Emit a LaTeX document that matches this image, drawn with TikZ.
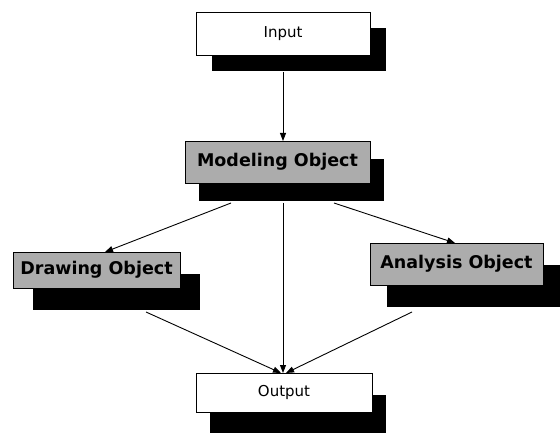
\documentclass[tikz,border=0pt]{standalone}
\usepackage{fontspec}
\setmainfont{DejaVu Sans}
\usetikzlibrary{arrows.meta,shadows}
\definecolor{boxgray}{RGB}{172,172,172}
\tikzset{
  plainbox/.style={draw=black, line width=0.8pt, fill=white, inner sep=0pt,
    font=\fontsize{15}{18}\selectfont},
  graybox/.style={draw=black, line width=0.8pt, fill=boxgray, inner sep=0pt,
    font=\fontsize{17.5}{20}\selectfont\bfseries},
  shad/.style 2 args={drop shadow={shadow xshift=#1pt, shadow yshift=-#2pt, fill=black, opacity=1}},
  conn/.style={line width=0.9pt, -{Triangle[length=8pt,width=6pt]}}
}
\begin{document}
\begin{tikzpicture}[x=1pt,y=-1pt]
\useasboundingbox (0,0) rectangle (560,433);
\node[plainbox, shad={16}{16}, minimum width=174pt, minimum height=43pt] (in) at (283,33.5) {Input};
\node[graybox, shad={14}{18}, minimum width=185pt, minimum height=42pt] (model) at (277.5,162) {Modeling Object};
\node[graybox, shad={20}{22}, minimum width=167pt, minimum height=36pt] (draw) at (96.5,270) {Drawing Object};
\node[graybox, shad={17}{22}, minimum width=173pt, minimum height=42pt] (anal) at (456.5,264) {Analysis Object};
\node[plainbox, shad={14}{22}, minimum width=176pt, minimum height=39pt] (out) at (284,392.5) {Output};
\coordinate (inS) at (283,72);
\coordinate (modT) at (283,141);
\coordinate (mL) at (231,203);
\coordinate (mC) at (283,203);
\coordinate (mR) at (334,203);
\coordinate (drT) at (105,252);
\coordinate (anT) at (455,243);
\coordinate (drB) at (146,312);
\coordinate (anB) at (412,312);
\coordinate (outL) at (281,373);
\coordinate (outC) at (283,373);
\coordinate (outR) at (286,373);
\draw[conn] (inS) -- (modT);
\draw[conn] (mL) -- (drT);
\draw[conn] (mC) -- (outC);
\draw[conn] (mR) -- (anT);
\draw[conn] (drB) -- (outL);
\draw[conn] (anB) -- (outR);
\end{tikzpicture}
\end{document}
